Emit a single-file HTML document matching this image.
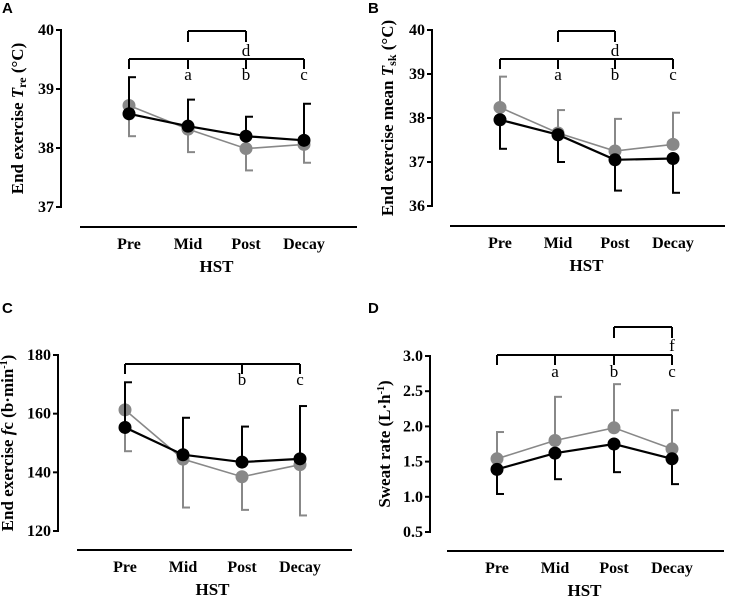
<!DOCTYPE html>
<html><head><meta charset="utf-8"><style>
body{margin:0;background:#fff;}
svg{display:block;font-family:"Liberation Serif",serif;}
.pl{font-family:"Liberation Sans",sans-serif;font-weight:bold;font-size:15px;}
.tk{font-weight:bold;font-size:16px;}
.ax{font-weight:bold;font-size:17px;}
.lt{font-size:17px;}
</style></head><body>
<svg id="chart" width="737" height="597" viewBox="0 0 737 597" xmlns="http://www.w3.org/2000/svg"></svg>
<script>
const categories = ["Pre","Mid","Post","Decay"];
const aBlack = [38.58,38.37,38.20,38.13];
const aBlackErr = [39.20,38.82,38.53,38.75];
const aGrey = [38.72,38.32,37.99,38.06];
const aGreyErr = [38.20,37.93,37.62,37.75];
const aTicks = [37,38,39,40];
const bBlack = [37.96,37.62,37.05,37.08];
const bBlackErr = [37.30,37.00,36.35,36.30];
const bGrey = [38.24,37.66,37.25,37.40];
const bGreyErr = [38.94,38.18,37.98,38.12];
const bTicks = [36,37,38,39,40];
const cBlack = [155.3,146.0,143.5,144.6];
const cBlackErr = [170.7,158.6,155.6,162.6];
const cGrey = [161.3,144.5,138.5,142.6];
const cGreyErr = [147.2,128.0,127.2,125.3];
const cTicks = [120,140,160,180];
const dBlack = [1.39,1.62,1.75,1.54];
const dBlackErr = [1.04,1.25,1.35,1.18];
const dGrey = [1.54,1.80,1.98,1.68];
const dGreyErr = [1.92,2.42,2.60,2.23];
const dTicks = ["0.5","1.0","1.5","2.0","2.5","3.0"];

const NS="http://www.w3.org/2000/svg";
const svg=document.getElementById('chart');
function mk(tag,attrs,parent,text){const e=document.createElementNS(NS,tag);for(const k in attrs)e.setAttribute(k,attrs[k]);if(text!==undefined)e.textContent=text;(parent||svg).appendChild(e);return e;}

const panels=[
 {id:'a',label:'A',lx:2,ly:13,axX:61,xs:[129,188,246,304],ymin:37,ymax:40,yTop:30,yBot:207,ticks:aTicks,lineY:227,lineX1:80,lineX2:357,
  black:aBlack,blackErr:aBlackErr,grey:aGrey,greyErr:aGreyErr,titleX:23,
  title:'End exercise <tspan font-style="italic">T</tspan><tspan font-size="12" dy="3">re</tspan><tspan dy="-3"> (°C)</tspan>',
  br:{y:59,from:0,to:3,ticks:[0,1,2,3],letters:[[1,'a'],[2,'b'],[3,'c']],ly:80},top:{y:31,from:1,to:2,letter:[2,'d',56],drop:[1,2]}},
 {id:'b',label:'B',lx:368,ly:13,axX:432,xs:[500,558,615,673],ymin:36,ymax:40,yTop:30,yBot:206,ticks:bTicks,lineY:226,lineX1:450,lineX2:725,
  black:bBlack,blackErr:bBlackErr,grey:bGrey,greyErr:bGreyErr,titleX:393,
  title:'End exercise mean <tspan font-style="italic">T</tspan><tspan font-size="12" dy="3">sk</tspan><tspan dy="-3"> (°C)</tspan>',
  br:{y:59,from:0,to:3,ticks:[0,1,2,3],letters:[[1,'a'],[2,'b'],[3,'c']],ly:80},top:{y:31,from:1,to:2,letter:[2,'d',56],drop:[1,2]}},
 {id:'c',label:'C',lx:2,ly:313,axX:58,xs:[125,183,242,300],ymin:120,ymax:180,yTop:355,yBot:531,ticks:cTicks,lineY:550,lineX1:77,lineX2:352,
  black:cBlack,blackErr:cBlackErr,grey:cGrey,greyErr:cGreyErr,titleX:13,
  title:'End exercise <tspan font-style="italic">f</tspan>c (b·min<tspan font-size="10" dy="-6">-1</tspan><tspan dy="6">)</tspan>',
  br:{y:364,from:0,to:3,ticks:[0,2,3],letters:[[2,'b'],[3,'c']],ly:385},top:null},
 {id:'d',label:'D',lx:368,ly:313,axX:430,xs:[497,555,614,672],ymin:0.5,ymax:3.0,yTop:532-5*35.2,yBot:532,ticks:dTicks,lineY:551,lineX1:447,lineX2:724,
  black:dBlack,blackErr:dBlackErr,grey:dGrey,greyErr:dGreyErr,titleX:390,
  title:'Sweat rate (L·h<tspan font-size="10" dy="-6">-1</tspan><tspan dy="6">)</tspan>',
  br:{y:355,from:0,to:3,ticks:[0,1,2,3],letters:[[1,'a'],[2,'b'],[3,'c']],ly:377},top:{y:327,from:2,to:3,letter:[3,'f',351],drop:[2,3]}}
];

panels.forEach(p=>{
 const g=mk('g',{});
 
 
 const Y=v=>p.yBot-(parseFloat(v)-p.ymin)/(p.ymax-p.ymin)*(p.yBot-p.yTop);
 const X=i=>p.xs[i];
 const pl=mk('text',{x:p.lx,y:p.ly,'class':'pl'},g,p.label);
 
 
 const ya=mk('line',{x1:p.axX,x2:p.axX,y1:p.yTop-1,y2:p.yBot+1,stroke:'#000','stroke-width':2},g);
 
 
 p.ticks.forEach(t=>{
  const y=Y(t);
  mk('line',{x1:p.axX-5,x2:p.axX,y1:y,y2:y,stroke:'#000','stroke-width':2},g);
  const tl=mk('text',{x:p.axX-7,y:y+5,'text-anchor':'end','class':'tk'},g,String(t));
  
  
 });
 const tt=mk('text',{'class':'ax','text-anchor':'middle',transform:`translate(${p.titleX},${(p.yTop+p.yBot)/2}) rotate(-90)`},g);
 tt.innerHTML=p.title;
 
 
 const xa=mk('line',{x1:p.lineX1,x2:p.lineX2,y1:p.lineY,y2:p.lineY,stroke:'#000','stroke-width':2},g);
 
 
 categories.forEach((c,i)=>{
  const xl=mk('text',{x:X(i),y:p.lineY+22,'text-anchor':'middle','class':'tk'},g,c);
  
  
 });
 const xt=mk('text',{x:(X(0)+X(3))/2,y:p.lineY+45,'text-anchor':'middle','class':'ax'},g,'HST');
 
 
 const b=p.br;
 mk('line',{x1:X(b.from),x2:X(b.to),y1:b.y,y2:b.y,stroke:'#000','stroke-width':2},g);
 b.ticks.forEach(i=>mk('line',{x1:X(i),x2:X(i),y1:b.y,y2:b.y+10,stroke:'#000','stroke-width':2},g));
 b.letters.forEach(([i,l])=>{const t=mk('text',{x:X(i),y:b.ly,'text-anchor':'middle','class':'lt'},g,l);
  
  });
 if(p.top){const t=p.top;
  mk('line',{x1:X(t.from),x2:X(t.to),y1:t.y,y2:t.y,stroke:'#000','stroke-width':2},g);
  t.drop.forEach(i=>mk('line',{x1:X(i),x2:X(i),y1:t.y,y2:t.y+11,stroke:'#000','stroke-width':2},g));
  const lt=mk('text',{x:X(t.letter[0]),y:t.letter[2],'text-anchor':'middle','class':'lt'},g,t.letter[1]);
  
  
 }
 [['grey','#888',p.grey,p.greyErr,1.6],['black','#000',p.black,p.blackErr,2.2]].forEach(([nm,col,vals,errs,w])=>{
  const sg=mk('g',{},g);
  
  
  vals.forEach((v,i)=>{
   const y=Y(v),ye=Y(errs[i]);
   mk('line',{x1:X(i),x2:X(i),y1:y,y2:ye,stroke:col,'stroke-width':2},sg);
   mk('line',{x1:X(i)-1,x2:X(i)+7,y1:ye,y2:ye,stroke:col,'stroke-width':2},sg);
  });
  const pts=vals.map((v,i)=>X(i)+','+Y(v)).join(' ');
  const ln=mk('polyline',{points:pts,fill:'none',stroke:col,'stroke-width':w},sg);
  
  
  vals.forEach((v,i)=>{
   const c=mk('circle',{cx:X(i),cy:Y(v),r:6.5,fill:col},sg);
   
   
  });
 });
});
</script>
</body></html>
